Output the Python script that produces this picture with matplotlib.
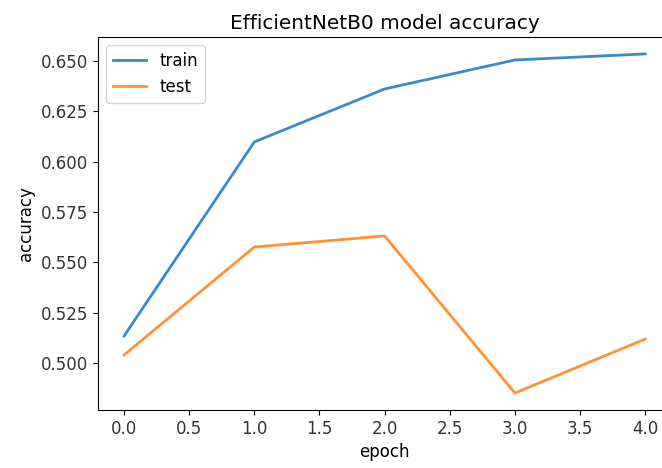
import matplotlib
matplotlib.use("Agg")
import matplotlib.pyplot as plt

# accuracy per epoch
epochs = [0, 1, 2, 3, 4]
train_acc = [0.5134, 0.6098, 0.6361, 0.6505, 0.6535]
test_acc = [0.5040, 0.5576, 0.5631, 0.4851, 0.5119]

plt.rcParams['font.size'] = 12

fig = plt.figure(figsize=(6.62, 4.68), dpi=100)
ax = fig.add_axes([0.148, 0.124, 0.866, 0.797])

ax.plot(epochs, train_acc, label='train', linewidth=2, color='#3a8bc4')
ax.plot(epochs, test_acc, label='test', linewidth=2, color='#ff9232')
ax.set_title('EfficientNetB0 model accuracy', fontsize=14.4)
ax.set_ylabel('accuracy')
ax.set_xlabel('epoch')
ax.tick_params(labelcolor='#333333')
ax.legend(loc='upper left')

fig.savefig('out.png', dpi=100)
